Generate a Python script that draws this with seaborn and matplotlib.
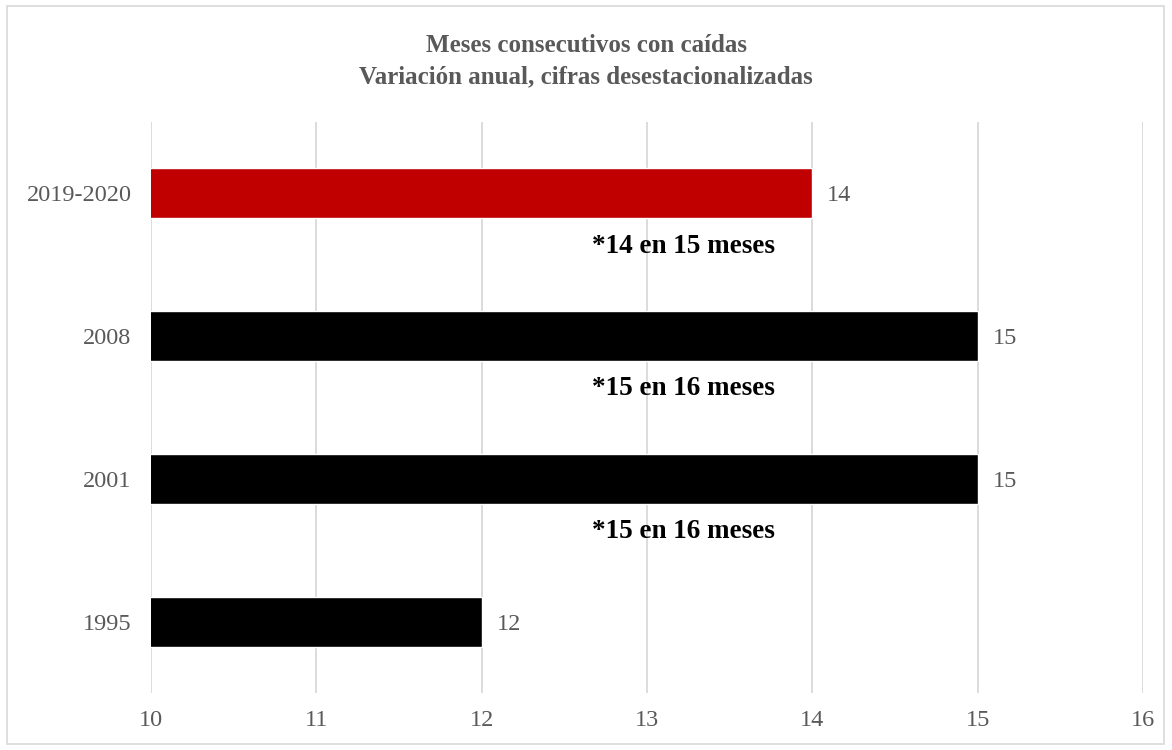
import matplotlib.pyplot as plt
import seaborn as sns
import pandas as pd

# datos del grafico
periodos = ["2019-2020", "2008", "2001", "1995"]
meses = [14, 15, 15, 12]
colores = ["#C00000", "#000000", "#000000", "#000000"]
notas = ["*14 en 15 meses", "*15 en 16 meses", "*15 en 16 meses", ""]
ticks_x = [10, 11, 12, 13, 14, 15, 16]

df = pd.DataFrame({"periodo": periodos, "meses": meses})

sns.set_theme(style="white")
plt.rcParams["font.family"] = ["Liberation Serif", "DejaVu Serif"]

gris = "#595959"

fig = plt.figure(figsize=(11.72, 7.5), dpi=100)
ax = fig.add_axes([0.1288, 0.076, 0.8465, 0.7613])

sns.barplot(data=df, y="periodo", x="meses", hue="periodo", palette=colores,
            order=periodos, orient="h", width=0.35, saturation=1, legend=False, ax=ax)

ax.set_xlim(10, 16)
ax.set_xticks(ticks_x)
ax.set_xticklabels([str(t) for t in ticks_x])
ax.grid(True, axis="x", color="#D9D9D9", linewidth=1.3)
ax.set_axisbelow(True)
for s in ax.spines.values():
    s.set_visible(False)
ax.tick_params(axis="both", length=0, labelsize=17.5, labelcolor=gris)
ax.tick_params(axis="x", pad=12)
ax.tick_params(axis="y", pad=14)
ax.set_xlabel("")
ax.set_ylabel("")

# etiquetas de valor
for i, v in enumerate(meses):
    ax.text(v + 0.09, i, str(v), va="center_baseline", ha="left", fontsize=17.5, color=gris)

# notas en negrita bajo las barras
for i, n in enumerate(notas):
    if n:
        ax.text(13.22, i + 0.37, n, ha="center", va="center", fontsize=19.5,
                fontweight="bold", color="black")

fig.text(0.5, 0.918, "Meses consecutivos con caídas\nVariación anual, cifras desestacionalizadas",
         ha="center", va="center", fontsize=18, fontweight="bold", color=gris,
         linespacing=1.45)

# borde del grafico
fig.patches.append(plt.Rectangle((0.006, 0.008), 0.987, 0.984, transform=fig.transFigure,
                                 fill=False, edgecolor="#D9D9D9", linewidth=1.2))

fig.savefig("out.png", dpi=100, facecolor="white")
